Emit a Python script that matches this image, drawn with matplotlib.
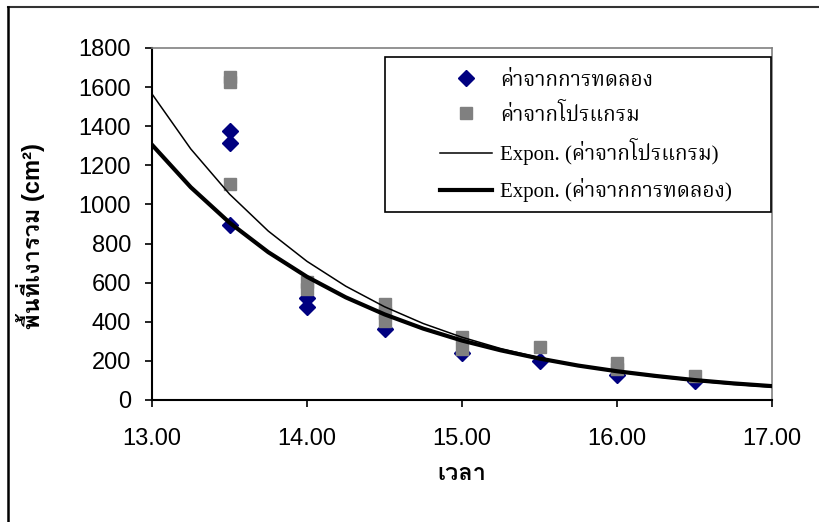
"""
shadow area vs time: measured values, program values and their exponential trendlines
"""

import numpy as np
import matplotlib

matplotlib.use("Agg")
import matplotlib.pyplot as plt
from matplotlib import font_manager
from matplotlib.ft2font import FT2Font
from matplotlib.lines import Line2D
from matplotlib.patches import Rectangle

# measured values (diamonds)
exp_x = [13.5, 13.5, 13.5, 14.0, 14.0, 14.5, 15.0, 15.5, 16.0, 16.5]
exp_y = [1378, 1316, 897, 522, 478, 362, 240, 200, 130, 95]

# program values (squares)
prog_x = [13.5, 13.5, 13.5, 14.0, 14.0, 14.5, 14.5, 14.5, 15.0, 15.0, 15.5, 16.0, 16.0, 16.5]
prog_y = [1652, 1626, 1106, 603, 568, 490, 445, 405, 320, 262, 272, 190, 160, 125]

# trendlines
trend_x = [13.0, 13.25, 13.5, 13.75, 14.0, 14.25, 14.5, 14.75, 15.0,
           15.25, 15.5, 15.75, 16.0, 16.25, 16.5, 16.75, 17.0]
trend_prog = [1565, 1284, 1053, 864, 709, 582, 477, 391, 321,
              263, 216, 177, 145, 119, 98, 80, 66]
trend_exp = [1305, 1088, 907, 756, 630, 525, 438, 365, 304,
             254, 212, 176, 147, 123, 102, 85, 71]

xticks = [13.0, 14.0, 15.0, 16.0, 17.0]
yticks = [0, 200, 400, 600, 800, 1000, 1200, 1400, 1600, 1800]

label_exp = "ค่าจากการทดลอง"
label_prog = "ค่าจากโปรแกรม"
ylabel = "พื้นที่เงารวม (cm²)"
xlabel = "เวลา"


def find_thai_font(preferred):
    """installed font with Thai glyphs, preferred names first"""
    found = []
    for f in font_manager.fontManager.ttflist:
        try:
            if FT2Font(f.fname).get_char_index(0x0E04):
                found.append(f.name)
        except Exception:
            pass
    for name in preferred:
        if name in found:
            return name
    return found[0] if found else "DejaVu Sans"


thai_sans = find_thai_font(["Loma", "Garuda", "Waree", "Noto Sans Thai", "Tlwg Typist"])
thai_serif = find_thai_font(["Norasi", "Kinnari", "Laksaman", "Noto Serif Thai", "Loma"])
sans = ["Liberation Sans", thai_sans, "DejaVu Sans"]
serif = ["Liberation Serif", thai_serif, "DejaVu Sans"]

W, H = 819, 522
fig = plt.figure(figsize=(W / 100, H / 100), dpi=100)
ax = fig.add_axes([152 / W, 1 - 400 / H, 620 / W, 352 / H])

ax.plot(exp_x, exp_y, "D", color="#000080", markersize=8, linestyle="none",
        label=label_exp, zorder=3)
ax.plot(prog_x, prog_y, "s", color="#808080", markersize=8.5, linestyle="none",
        label=label_prog, zorder=4)
ax.plot(trend_x, trend_prog, "-", color="black", linewidth=1.1,
        label="Expon. (" + label_prog + ")", zorder=5)
ax.plot(trend_x, trend_exp, "-", color="black", linewidth=3,
        label="Expon. (" + label_exp + ")", zorder=5)

ax.set_xlim(13, 17)
ax.set_ylim(0, 1800)
ax.set_xticks(xticks)
ax.set_xticklabels(["%.2f" % v for v in xticks])
ax.set_yticks(yticks)
ax.tick_params(axis="both", direction="out", length=5, width=1.2,
               labelsize=17, color="black")
ax.tick_params(axis="x", pad=15)
ax.tick_params(axis="y", pad=10)
for t in ax.get_xticklabels() + ax.get_yticklabels():
    t.set_family(sans)

for side in ["left", "bottom"]:
    ax.spines[side].set_color("black")
    ax.spines[side].set_linewidth(1.5)
for side in ["top", "right"]:
    ax.spines[side].set_color("#808080")
    ax.spines[side].set_linewidth(1.2)

ax.set_ylabel(ylabel, fontsize=17, fontweight="bold", family=sans)
ax.yaxis.set_label_coords(-0.1726, 0.466)
ax.set_xlabel(xlabel, fontsize=17, fontweight="bold", family=sans)
ax.xaxis.set_label_coords(0.5, -0.176)

# legend box drawn separately, handles sit well inside it
box = Rectangle(((385 - 152) / 620, (400 - 212) / 352), (771 - 385) / 620, (212 - 57) / 352,
                transform=ax.transAxes, facecolor="white", edgecolor="black",
                linewidth=1.2, zorder=6)
ax.add_patch(box)
leg = ax.legend(loc="upper left", bbox_to_anchor=((440 - 152) / 620, (400 - 71) / 352),
                prop={"family": serif, "size": 15}, frameon=False,
                handlelength=2.5, handletextpad=0.4, borderpad=0,
                labelspacing=0.62, borderaxespad=0)
leg.set_zorder(7)

# outer chart border (cut off on the right and bottom)
fig.add_artist(Line2D([8 / W, 1], [1 - 7 / H, 1 - 7 / H], color="#333333", linewidth=1.5))
fig.add_artist(Line2D([8 / W, 8 / W], [0, 1 - 7 / H], color="black", linewidth=1.8))

fig.savefig("out.png", dpi=100)
